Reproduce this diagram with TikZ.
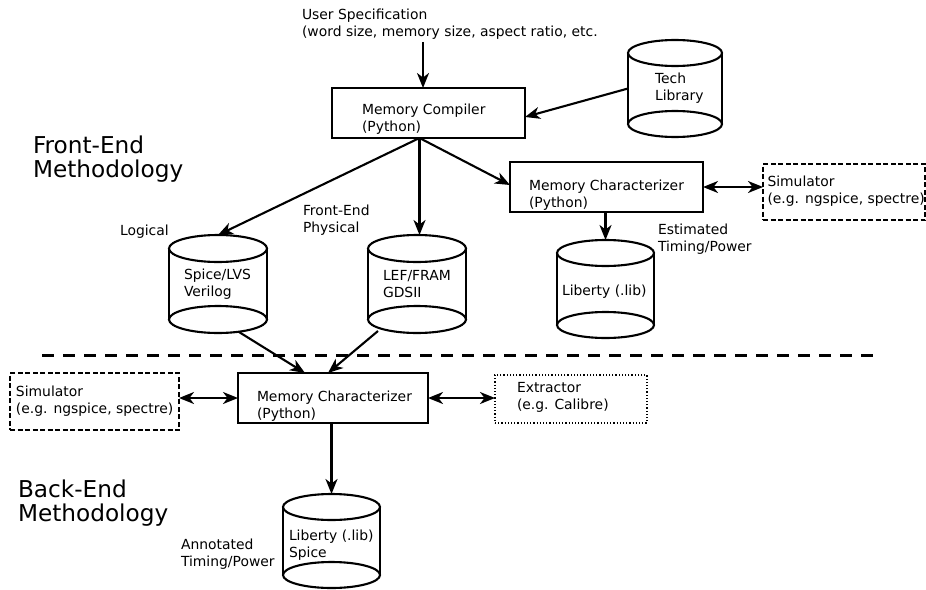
\documentclass[tikz,border=0pt]{standalone}
\usepackage{fontspec}
\setmainfont{DejaVu Sans}
\usetikzlibrary{arrows.meta,calc}

% cylinder outline drawn round a named placeholder node:
% #1 node name, #2 x radius, #3 y radius of the end ellipses
\newcommand\drumshape[3]{%
  \draw[line width=2.1pt]
    ($(#1.north west)+(0,#3)$) -- ($(#1.south west)+(0,-#3)$)
    ($(#1.north east)+(0,#3)$) -- ($(#1.south east)+(0,-#3)$);
  \draw[line width=2.1pt] ($(#1.north)+(0,#3)$) ellipse [x radius=#2pt, y radius=#3pt];
  \draw[line width=2.1pt] ($(#1.south)+(0,-#3)$) ellipse [x radius=#2pt, y radius=#3pt];
}

\begin{document}
\begin{tikzpicture}[x=1pt,y=-1pt,
  every node/.style={inner sep=0pt, outer sep=0pt},
  lbl/.style={font=\fontsize{13.9}{17}\selectfont, align=left, anchor=west},
  big/.style={font=\fontsize{23.2}{24.5}\selectfont, align=left, anchor=west},
  box/.style={draw, line width=1.9pt, rectangle},
  simbox/.style={draw, line width=1.2pt, dash pattern=on 5pt off 2.5pt},
  dotbox/.style={draw, line width=1.2pt, dotted},
  tip/.tip={Stealth[length=15pt,width=12pt,inset=4.5pt]},
  arr/.style={line width=2.1pt, -tip},
  darr/.style={line width=2.1pt, tip-tip},
]
\useasboundingbox (0,0) rectangle (926,589);

% ---------- front end ----------
\node[lbl, anchor=north west] (usr) at (302,8.5)
  {User Specification\\(word size, memory size, aspect ratio, etc.};

\node[box, minimum width=193pt, minimum height=50pt] (mc) at (428.5,113) {};
\node[lbl] (mctext) at (362,119) {Memory Compiler\\(Python)};

\node[minimum width=94pt, minimum height=97pt] (tech) at (675,88.5) {};
\drumshape{tech}{47}{13}
\node[lbl] (techtext) at (655,88) {Tech\\Library};

\node[box, minimum width=193pt, minimum height=50pt] (mcf) at (606.5,187) {};
\node[lbl] (mcftext) at (529,195.5) {Memory Characterizer\\(Python)};

\node[simbox, minimum width=162pt, minimum height=56pt] (simf) at (844,192) {};
\node[lbl] (simftext) at (767.5,191) {Simulator\\(e.g. ngspice, spectre)};

\node[minimum width=97pt, minimum height=98pt] (libf) at (605.5,289) {};
\drumshape{libf}{48.5}{13}
\node[lbl] (libftext) at (562,292) {Liberty (.lib)};
\node[lbl] (esttext) at (658,239) {Estimated\\Timing/Power};

\node[minimum width=98pt, minimum height=98pt] (spice) at (218,284) {};
\drumshape{spice}{49}{13.5}
\node[lbl] (spicetext) at (184,284) {Spice/LVS\\Verilog};
\node[lbl] (logical) at (120,232) {Logical};

\node[minimum width=98pt, minimum height=98pt] (lef) at (417,284) {};
\drumshape{lef}{49}{13.5}
\node[lbl] (leftext) at (383,284) {LEF/FRAM\\GDSII};
\node[lbl] (phys) at (303,220.5) {Front-End\\Physical};

\node[big] (front) at (33,159) {Front-End\\Methodology};

% connectors of the front end
\coordinate (mcin) at ($(mc.north west)+(91,0)$);
\coordinate (mcout) at ($(mc.south)+(-9,0)$);
\draw[arr] (usr.south -| mcin) ++(0,3) -- (mcin);
\draw[arr] (tech.west) -- ($(mc.east)+(0,4)$);
\draw[arr] (mcout) -- (spice.north);
\draw[arr] (mcout) -- (mcout |- lef.north);
\draw[arr] (mcout) -- ($(mcf.west)+(0,-2)$);
\draw[darr] (mcf.east) -- (mcf.east -| simf.west);
\draw[arr] (libf.north |- mcf.south) -- (libf.north);

% ---------- separator ----------
\coordinate (sepL) at (42,355);
\coordinate (sepR) at (877,355);
\draw[line width=3pt, dash pattern=on 12pt off 9pt] (sepL) -- (sepR);

% ---------- back end ----------
\node[box, minimum width=190pt, minimum height=50pt] (mcb) at (333,398) {};
\node[lbl] (mcbtext) at (257,406.5) {Memory Characterizer\\(Python)};

\node[simbox, minimum width=169pt, minimum height=57pt] (simb) at (94.5,401.5) {};
\node[lbl] (simbtext) at (16,401) {Simulator\\(e.g. ngspice, spectre)};

\node[dotbox, minimum width=152pt, minimum height=48pt] (ext) at (571,399) {};
\node[lbl] (exttext) at (517,397) {Extractor\\(e.g. Calibre)};

\node[minimum width=97pt, minimum height=94pt] (libb) at (331.5,541) {};
\drumshape{libb}{48.5}{13}
\node[lbl] (libbtext) at (289,545) {Liberty (.lib)\\Spice};
\node[lbl] (anntext) at (181,554.5) {Annotated\\Timing/Power};

\node[big] (back) at (18,503) {Back-End\\Methodology};

% connectors of the back end
\draw[arr] ($(spice.south)+(21,-1)$) -- ($(mcb.north)+(-28,0)$);
\draw[arr] ($(lef.south)+(-39,-2)$) -- ($(mcb.north)+(-5,0)$);
\draw[darr] (mcb.west -| simb.east) -- (mcb.west);
\draw[darr] (mcb.east) -- (mcb.east -| ext.west);
\draw[arr] (libb.north |- mcb.south) -- (libb.north);
\end{tikzpicture}
\end{document}
